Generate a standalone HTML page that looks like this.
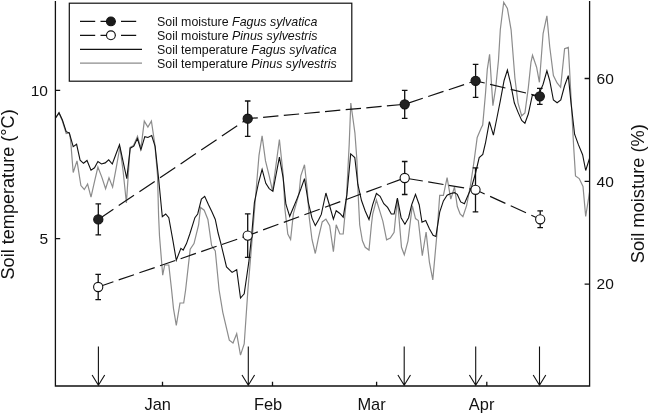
<!DOCTYPE html>
<html lang="en"><head><meta charset="utf-8"><title>Soil temperature and soil moisture</title>
<style>html,body{margin:0;padding:0;background:#fff}svg{display:block}text{font-family:"Liberation Sans",Arial,Helvetica,sans-serif;fill:#111}</style></head><body>
<svg width="649" height="414" viewBox="0 0 649 414">
<rect width="649" height="414" fill="#fff"/>
<polyline fill="none" stroke="#8c8c8c" stroke-width="1.2" stroke-linejoin="miter" points="55.7,117.8 59.0,113.0 62.4,121.0 66.2,133.5 69.3,133.0 70.6,140.0 73.2,172.5 77.0,160.9 80.9,185.6 84.3,189.5 87.6,184.0 91.0,197.2 94.5,181.7 97.9,167.0 101.8,177.1 105.6,188.7 109.0,177.9 112.6,187.1 116.2,167.8 119.9,147.0 123.1,171.0 126.4,203.0 130.1,147.3 133.5,145.5 137.5,136.3 140.9,148.6 144.3,121.1 147.9,127.0 151.4,121.1 154.8,144.0 157.5,175.0 158.6,215.8 159.5,236.0 162.7,275.2 164.7,265.0 168.8,265.0 171.6,290.0 173.5,308.6 176.3,325.3 180.0,303.0 183.7,303.0 185.6,290.0 190.2,249.2 194.0,243.6 198.6,225.0 200.5,207.4 204.2,210.2 207.9,219.5 211.6,245.5 215.3,251.0 219.1,290.0 222.8,312.3 229.3,340.2 233.0,343.0 236.7,333.7 240.5,355.1 244.2,344.0 247.9,290.0 252.4,236.0 256.2,189.3 259.0,155.3 262.1,135.8 265.5,160.9 269.2,175.8 272.5,190.9 276.0,165.0 279.4,139.5 283.1,174.0 285.0,209.8 287.8,234.0 290.6,239.5 293.4,213.5 299.0,194.0 300.8,175.8 304.5,164.7 307.3,190.0 309.2,217.2 312.0,239.5 315.3,253.5 318.5,237.7 322.2,221.9 325.9,219.1 329.7,225.6 333.4,251.6 336.2,224.7 339.9,234.0 343.2,234.0 346.4,198.6 349.2,144.2 350.8,103.0 354.9,132.8 356.9,160.0 358.3,197.2 359.7,225.0 362.4,240.8 365.2,247.3 369.0,250.1 371.4,225.0 372.7,214.0 376.4,200.0 380.1,212.1 382.9,221.4 386.6,239.9 390.3,238.0 394.1,232.4 397.4,199.1 401.5,247.3 404.3,254.8 408.0,240.8 412.3,205.6 415.5,218.6 418.3,220.5 422.3,255.7 426.1,232.0 429.4,262.2 432.8,279.9 436.9,234.3 439.7,195.3 443.4,195.3 447.1,177.7 450.8,199.1 454.5,187.0 457.3,206.5 460.1,214.0 462.9,216.7 466.6,205.6 470.5,185.0 473.8,163.0 477.2,137.5 481.3,127.8 482.7,125.1 485.5,93.5 487.3,69.3 489.6,54.3 492.9,105.6 495.7,87.9 498.5,60.0 500.3,29.8 503.7,2.2 507.4,8.4 511.1,29.8 514.9,78.0 518.0,102.8 521.7,115.8 524.9,113.0 528.3,87.9 531.0,62.0 532.5,55.3 536.6,67.2 539.4,82.3 543.1,33.5 546.9,15.8 549.7,46.5 553.4,75.5 557.1,83.0 560.6,87.3 564.6,48.7 568.3,47.4 569.5,68.0 571.0,97.2 573.7,147.2 575.5,176.0 579.2,178.6 583.0,186.5 585.7,216.5 589.5,192.3"/>
<polyline fill="none" stroke="#111" stroke-width="1.1" stroke-linejoin="miter" points="55.7,117.8 59.0,112.7 62.4,120.0 66.2,131.7 69.3,132.9 73.2,146.7 76.6,144.3 80.1,160.2 83.5,163.3 87.0,160.5 91.0,170.1 94.5,167.8 97.9,161.6 101.5,164.0 105.2,162.9 108.7,159.8 112.3,164.0 116.0,154.0 119.5,144.7 123.1,161.6 126.8,178.6 130.2,148.2 133.8,146.2 137.4,138.5 140.9,149.8 144.8,136.6 147.9,137.5 151.7,135.5 155.1,146.3 158.6,178.6 162.3,216.7 165.7,214.0 168.8,217.7 173.1,241.7 176.3,260.3 180.9,248.3 183.2,250.1 186.5,243.6 189.8,234.0 194.9,217.7 197.7,214.0 201.4,199.0 204.7,196.3 208.5,204.7 212.0,212.0 215.3,219.5 218.1,233.0 220.9,243.6 226.5,266.9 232.1,272.4 236.7,269.7 240.5,298.0 244.2,293.8 248.8,262.2 251.6,236.0 254.4,202.5 258.5,183.0 262.1,169.3 265.8,183.3 269.2,188.6 272.9,191.4 279.4,157.2 283.1,177.7 285.9,204.2 289.7,216.3 293.4,207.5 297.1,198.6 300.8,189.0 304.5,178.6 308.3,202.3 312.0,218.1 315.3,225.6 318.5,220.0 321.3,214.4 325.9,193.0 329.7,206.0 333.4,219.1 336.2,210.7 339.9,213.5 343.2,217.2 346.9,194.9 350.7,153.8 354.8,157.5 357.8,184.2 361.5,200.5 365.2,211.0 369.0,219.5 372.7,204.7 376.4,193.5 380.1,196.3 383.8,203.7 387.6,207.4 391.3,214.0 394.1,214.0 397.4,198.1 401.1,217.7 404.9,224.2 408.6,217.7 411.7,204.7 415.5,194.4 419.2,204.7 422.0,222.3 425.7,220.5 429.4,228.8 433.1,235.3 435.9,236.4 439.7,212.1 443.4,200.9 447.1,195.3 450.8,193.5 454.5,192.6 457.3,194.4 460.7,201.9 464.4,203.7 467.6,196.3 471.6,187.0 475.3,174.0 479.2,157.5 482.8,154.4 485.6,142.3 489.4,121.7 493.4,135.1 496.6,119.5 500.3,100.9 504.1,80.5 507.4,70.0 510.6,83.3 514.3,102.8 518.0,112.1 521.7,120.5 524.9,123.3 528.3,114.0 532.3,95.3 535.7,96.0 539.5,93.0 543.1,84.2 546.9,70.8 549.7,80.5 553.4,100.0 557.1,102.8 560.8,100.0 564.5,86.0 568.3,75.6 571.0,102.8 574.6,134.2 578.3,144.4 582.6,154.7 585.7,170.5 589.5,158.4"/>
<path fill="none" stroke="#111" stroke-width="1.2" d="M98.3 219.4L113.4 209.2M118.7 205.6L134.0 195.3M139.4 191.7L154.7 181.4M160.0 177.8L175.3 167.5M180.6 163.9L195.9 153.6M201.2 150.0L216.6 139.7M221.9 136.1L237.2 125.8M242.5 122.2L247.7 118.7L257.8 117.8M263.1 117.3L278.4 115.9M283.8 115.4L299.1 114.0M304.4 113.5L319.7 112.1M325.0 111.6L340.3 110.2M345.7 109.7L361.0 108.3M366.3 107.8L381.6 106.4M386.9 105.9L402.2 104.5M407.5 103.4L422.8 98.3M428.2 96.5L443.5 91.4M448.8 89.7L464.1 84.6M469.4 82.8L475.6 80.8L484.7 83.0M490.1 84.3L505.4 88.0M510.7 89.3L526.0 93.0M531.3 94.3L539.8 96.3"/>
<path fill="none" stroke="#111" stroke-width="1.2" d="M98.2 287.0L113.4 281.8M118.7 279.9L134.0 274.7M139.4 272.8L154.7 267.6M160.0 265.8L175.3 260.5M180.6 258.7L195.9 253.4M201.2 251.6L216.6 246.3M221.9 244.5L237.2 239.2M242.5 237.4L247.7 235.6L257.8 231.9M263.1 229.9L278.4 224.3M283.8 222.4L299.1 216.8M304.4 214.8L319.7 209.2M325.0 207.2L340.3 201.6M345.7 199.7L361.0 194.0M366.3 192.1L381.6 186.5M386.9 184.5L402.2 178.9M407.5 178.5L422.8 181.0M428.2 181.9L443.5 184.5M448.8 185.4L464.1 187.9M469.4 188.8L475.5 189.8L484.7 194.0M490.1 196.4L505.4 203.4M510.7 205.8L526.0 212.8M531.3 215.3L540.2 219.3"/>
<path d="M98.3 203.9V234.9M95.5 203.9h5.6M95.5 234.9h5.6" stroke="#111" stroke-width="1.3" fill="none"/>
<circle cx="98.3" cy="219.4" r="4.6" fill="#222" stroke="#111" stroke-width="1.1"/>
<path d="M247.7 101.0V136.4M244.9 101.0h5.6M244.9 136.4h5.6" stroke="#111" stroke-width="1.3" fill="none"/>
<circle cx="247.7" cy="118.7" r="4.6" fill="#222" stroke="#111" stroke-width="1.1"/>
<path d="M404.7 90.3V118.3M401.9 90.3h5.6M401.9 118.3h5.6" stroke="#111" stroke-width="1.3" fill="none"/>
<circle cx="404.7" cy="104.3" r="4.6" fill="#222" stroke="#111" stroke-width="1.1"/>
<path d="M475.6 64.3V97.3M472.8 64.3h5.6M472.8 97.3h5.6" stroke="#111" stroke-width="1.3" fill="none"/>
<circle cx="475.6" cy="80.8" r="4.6" fill="#222" stroke="#111" stroke-width="1.1"/>
<path d="M539.8 88.3V104.3M537.0 88.3h5.6M537.0 104.3h5.6" stroke="#111" stroke-width="1.3" fill="none"/>
<circle cx="539.8" cy="96.3" r="4.6" fill="#222" stroke="#111" stroke-width="1.1"/>
<path d="M98.2 274.4V299.6M95.4 274.4h5.6M95.4 299.6h5.6" stroke="#111" stroke-width="1.3" fill="none"/>
<circle cx="98.2" cy="287.0" r="4.6" fill="#fff" stroke="#111" stroke-width="1.1"/>
<path d="M247.7 213.9V257.3M244.9 213.9h5.6M244.9 257.3h5.6" stroke="#111" stroke-width="1.3" fill="none"/>
<circle cx="247.7" cy="235.6" r="4.6" fill="#fff" stroke="#111" stroke-width="1.1"/>
<path d="M404.7 161.5V194.5M401.9 161.5h5.6M401.9 194.5h5.6" stroke="#111" stroke-width="1.3" fill="none"/>
<circle cx="404.7" cy="178.0" r="4.6" fill="#fff" stroke="#111" stroke-width="1.1"/>
<path d="M475.5 167.8V211.8M472.7 167.8h5.6M472.7 211.8h5.6" stroke="#111" stroke-width="1.3" fill="none"/>
<circle cx="475.5" cy="189.8" r="4.6" fill="#fff" stroke="#111" stroke-width="1.1"/>
<path d="M540.2 210.9V227.7M537.4 210.9h5.6M537.4 227.7h5.6" stroke="#111" stroke-width="1.3" fill="none"/>
<circle cx="540.2" cy="219.3" r="4.6" fill="#fff" stroke="#111" stroke-width="1.1"/>
<path d="M98.4 346.5V385M92.1 375L98.4 385.3L104.7 375" stroke="#111" stroke-width="1.1" fill="none"/>
<path d="M248.3 346.5V385M242.0 375L248.3 385.3L254.6 375" stroke="#111" stroke-width="1.1" fill="none"/>
<path d="M404.2 346.5V385M397.9 375L404.2 385.3L410.5 375" stroke="#111" stroke-width="1.1" fill="none"/>
<path d="M475.7 346.5V385M469.4 375L475.7 385.3L482.0 375" stroke="#111" stroke-width="1.1" fill="none"/>
<path d="M539.5 346.5V385M533.2 375L539.5 385.3L545.8 375" stroke="#111" stroke-width="1.1" fill="none"/>
<path d="M55.4 1V386H589.6V1" stroke="#111" stroke-width="1.3" fill="none"/>
<path d="M55.4 90.3h4.8M55.4 238.7h4.8M589.6 78.5h-5M589.6 181.4h-5M589.6 284.1h-5M162.5 386v-4.3M272.5 386v-4.3M376.6 386v-4.3M486.8 386v-4.3" stroke="#111" stroke-width="1.3" fill="none"/>
<g font-size="15.5">
<text x="48" y="95.7" text-anchor="end">10</text>
<text x="48" y="244" text-anchor="end">5</text>
<text x="596.6" y="83.7">60</text><text x="596.6" y="186.6">40</text><text x="596.6" y="289.3">20</text>
</g><g font-size="16.4" text-anchor="middle">
<text x="157.7" y="409.7">Jan</text><text x="268" y="409.7">Feb</text><text x="371.6" y="409.7">Mar</text><text x="481.6" y="409.7">Apr</text>
</g>
<text font-size="18.1" text-anchor="middle" transform="translate(14.3 194.4) rotate(-90)">Soil temperature (°C)</text>
<text font-size="18.3" text-anchor="middle" transform="translate(644 193.7) rotate(-90)">Soil moisture (%)</text>
<rect x="69.3" y="3.2" width="282.5" height="78" fill="#fff" stroke="#111" stroke-width="1.2"/>
<path d="M80 21.4H141.3M80 35.3H141.3" stroke="#111" stroke-width="1.3" stroke-dasharray="15.2,5.3" fill="none"/>
<path d="M80 49.3H142" stroke="#111" stroke-width="1.3" fill="none"/>
<path d="M80 63.2H142" stroke="#8c8c8c" stroke-width="1.3" fill="none"/>
<circle cx="110.9" cy="21.4" r="4.4" fill="#1a1a1a" stroke="#111" stroke-width="1.1"/>
<circle cx="110.9" cy="35.3" r="4.4" fill="#fff" stroke="#111" stroke-width="1.1"/>
<g font-size="12.4">
<text x="157" y="25.8">Soil moisture <tspan font-style="italic">Fagus sylvatica</tspan></text>
<text x="157" y="39.7">Soil moisture <tspan font-style="italic">Pinus sylvestris</tspan></text>
<text x="157" y="53.6">Soil temperature <tspan font-style="italic">Fagus sylvatica</tspan></text>
<text x="157" y="67.5">Soil temperature <tspan font-style="italic">Pinus sylvestris</tspan></text>
</g>
</svg></body></html>
